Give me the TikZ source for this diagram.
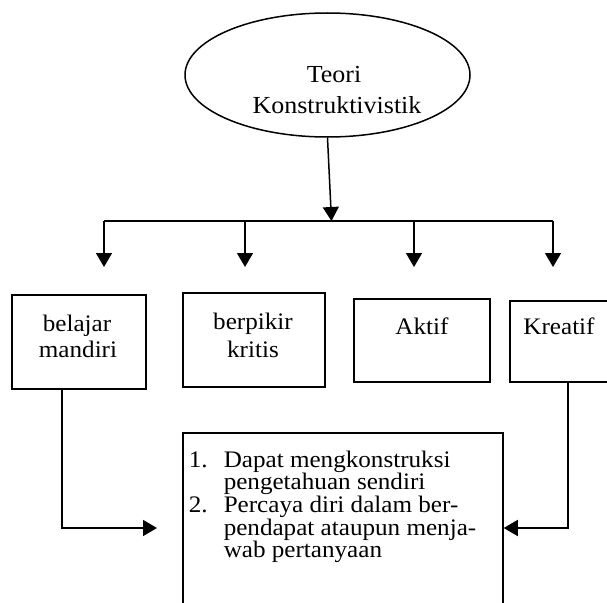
\documentclass[tikz,border=0pt]{standalone}
\usepackage{fontspec}
\setmainfont[FakeStretch=1.06]{Liberation Serif}
\usetikzlibrary{arrows.meta,shapes.geometric}
\begin{document}
\begin{tikzpicture}[x=1pt,y=-1pt,
  line width=1.5pt,
  arr/.style={-{Triangle[width=16pt,length=14pt]}},
  box/.style={draw,rectangle,inner sep=0pt},
  lbl/.style={anchor=base,inner sep=0pt,font=\fontsize{23.7}{26}\selectfont},
  lst/.style={anchor=base west,inner sep=0pt,font=\fontsize{23.7}{26}\selectfont},
  elbl/.style={anchor=base,inner sep=0pt,font=\fontsize{24.5}{30}\selectfont}]
\useasboundingbox (0,0) rectangle (607,602);
\clip (0,0) rectangle (607,602);
% ellipse
\node[draw,ellipse,inner sep=0pt,minimum width=285pt,minimum height=124pt] (ell) at (327.5,75) {};
\node[elbl] (t1) at (334,82) {Teori};
\node[elbl] (t2) at (337,113) {Konstruktivistik};
% distribution line
\coordinate (J) at (331.5,221);
\coordinate (L) at (104,221);
\coordinate (R) at (553,221);
\coordinate (d1) at (104,267);
\coordinate (d2) at (245,267);
\coordinate (d3) at (414,267);
\coordinate (d4) at (553,267);
\coordinate (j2) at (245,221);
\coordinate (j3) at (414,221);
\draw[arr] (ell.south) -- (J);
\draw (L) -- (R);
\draw[arr] (L) -- (d1);
\draw[arr] (j2) -- (d2);
\draw[arr] (j3) -- (d3);
\draw[arr] (R) -- (d4);
% boxes
\node[box,minimum width=134pt,minimum height=94pt] (b1) at (79,342) {};
\node[box,minimum width=142pt,minimum height=94pt] (b2) at (254,340) {};
\node[box,minimum width=136pt,minimum height=83pt] (b3) at (422,340.5) {};
\node[box,minimum width=110pt,minimum height=81pt] (b4) at (565,341.5) {};
\node[lbl] (l1a) at (77,331) {belajar};
\node[lbl] (l1b) at (78,357) {mandiri};
\node[lbl] (l2a) at (253,329) {berpikir};
\node[lbl] (l2b) at (253,357) {kritis};
\node[lbl] (l3) at (422,334) {Aktif};
\node[lbl] (l4) at (559,334) {Kreatif};
% bottom box (open at the bottom edge)
\node[box,minimum width=320pt,minimum height=190pt] (bx) at (343,528) {};
\node[lst] (n1) at (188,467) {1.};
\node[lst] (n2) at (188,512.4) {2.};
\node[lst] (s1) at (223,467) {Dapat mengkonstruksi};
\node[lst] (s2) at (223,489.7) {pengetahuan sendiri};
\node[lst] (s3) at (223,512.4) {Percaya diri dalam ber-};
\node[lst] (s4) at (223,535) {pendapat ataupun menja-};
\node[lst] (s5) at (223,557.7) {wab pertanyaan};
% connectors to bottom box
\coordinate (tipL) at (157,528);
\draw[arr] ([xshift=-17pt]b1.south) |- (tipL);
\draw[arr] ([xshift=3pt]b4.south) |- (bx.east |- tipL);
\end{tikzpicture}
\end{document}
